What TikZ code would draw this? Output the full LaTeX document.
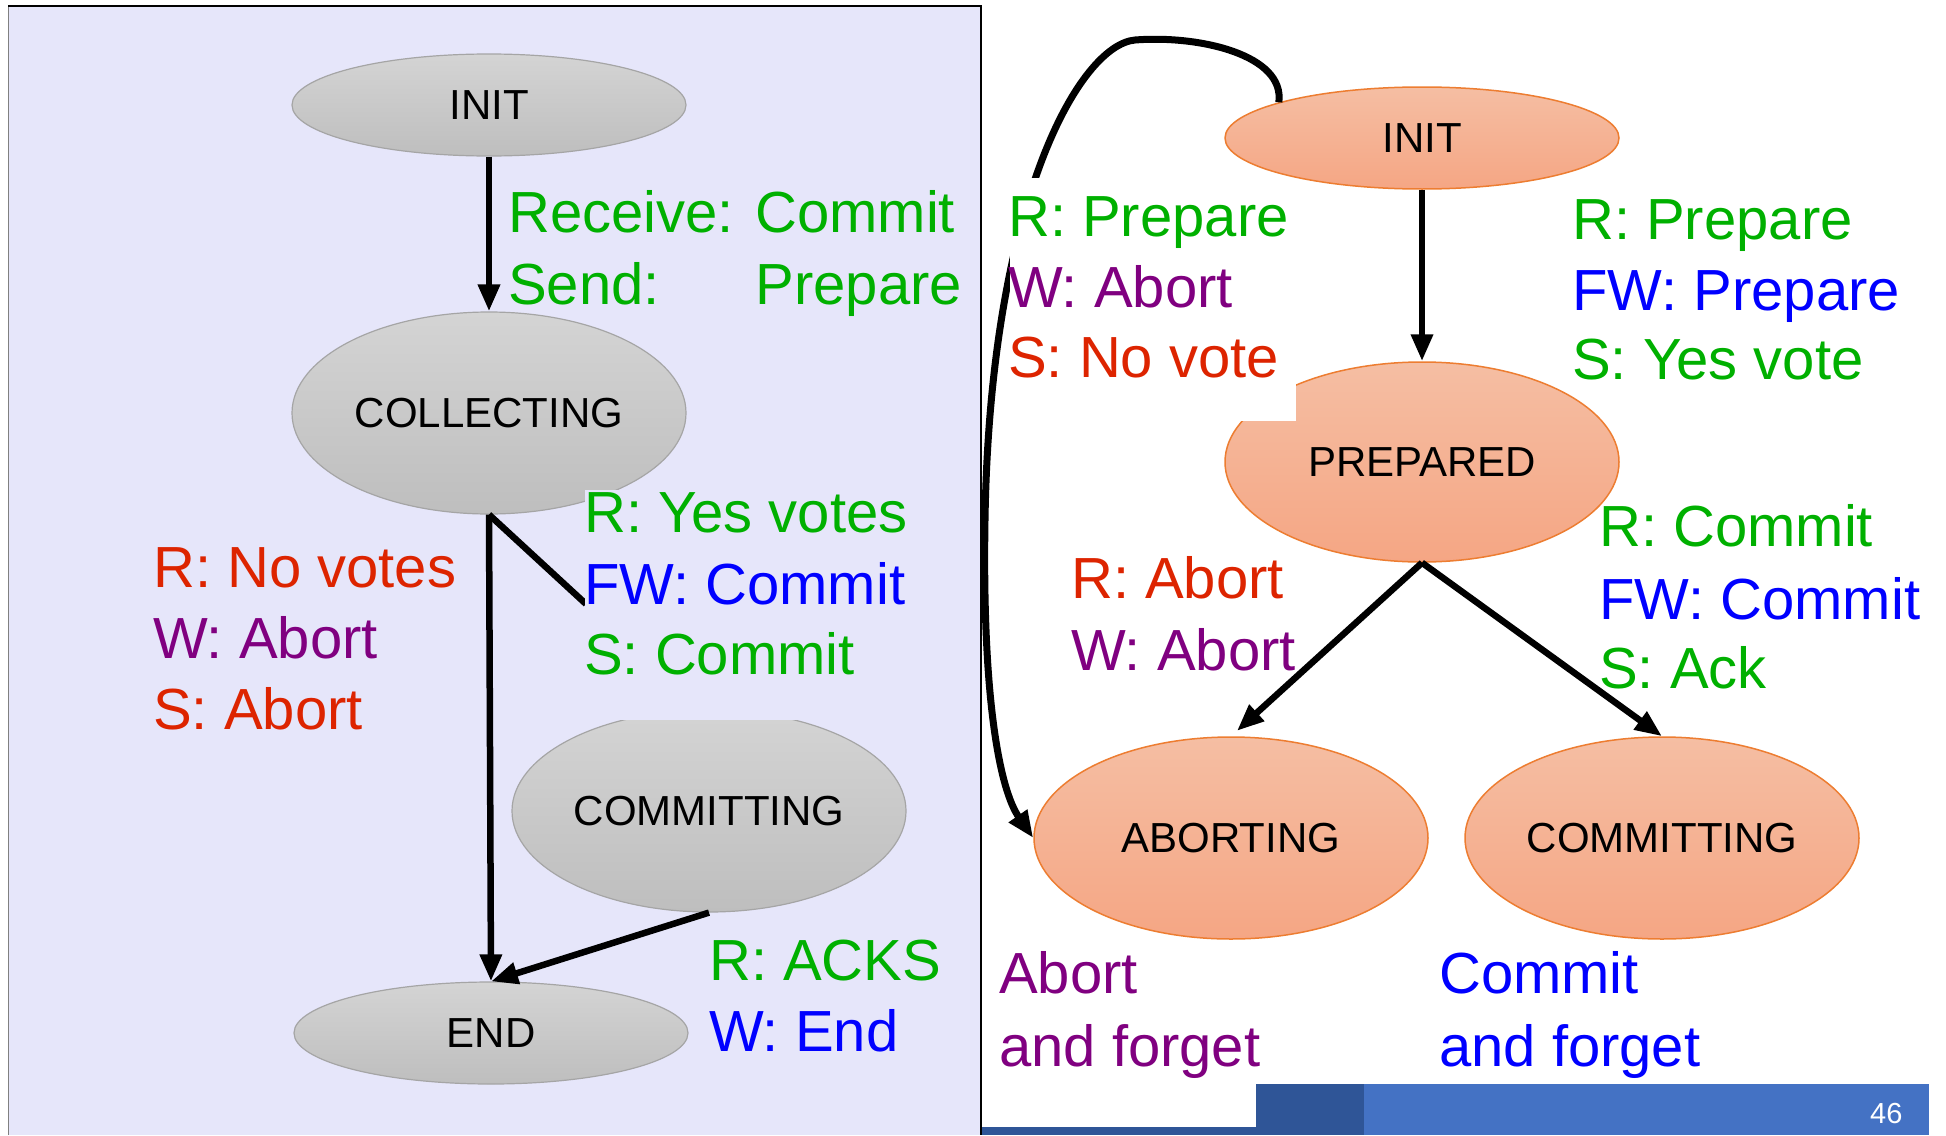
\documentclass[tikz,border=0pt]{standalone}
\usepackage{fontspec}
\setmainfont{Liberation Sans}
\usetikzlibrary{shapes.geometric,arrows.meta}
\definecolor{panelbg}{RGB}{230,230,250}
\definecolor{lgreen}{RGB}{0,176,0}
\definecolor{lred}{RGB}{221,36,0}
\definecolor{lpurple}{RGB}{128,0,128}
\definecolor{lblue}{RGB}{0,0,255}
\definecolor{gtop}{RGB}{212,212,212}
\definecolor{gbot}{RGB}{190,190,190}
\definecolor{gline}{RGB}{165,165,165}
\definecolor{otop}{RGB}{245,190,163}
\definecolor{obot}{RGB}{245,166,132}
\definecolor{oline}{RGB}{237,125,49}
\definecolor{footdark}{RGB}{47,85,151}
\definecolor{footlight}{RGB}{68,114,196}
\tikzset{
  stnode/.style={ellipse, inner sep=0pt, minimum width=394pt, font=\fontsize{42}{48}\selectfont, text=black},
  gnode/.style={stnode, draw=gline, line width=1.2pt, top color=gtop, bottom color=gbot},
  onode/.style={stnode, draw=oline, line width=1.5pt, top color=otop, bottom color=obot},
  arr/.style={line width=6.5pt, -{Triangle[length=27pt,width=21pt]}},
  conn/.style={line width=6.5pt},
  lbl/.style={anchor=base west, inner sep=0pt, font=\fontsize{58}{71}\selectfont},
  lg/.style={lbl, text=lgreen},
  lr/.style={lbl, text=lred},
  lp/.style={lbl, text=lpurple},
  lb/.style={lbl, text=lblue}
}
\begin{document}
\begin{tikzpicture}[x=1pt,y=-1pt]
\useasboundingbox (0,0) rectangle (1946,1135);
\fill[white] (0,0) rectangle (1946,1135);
% left panel
\fill[panelbg] (8,6) rectangle (981,1135);
\draw[gray, line width=1pt] (8,1135) -- (8,6);
\draw[black, line width=2.5pt] (8,6) -- (981,6) -- (981,1135);
% footer
\fill[footdark] (1256,1084) rectangle (1364,1135);
\fill[footlight] (1364,1084) rectangle (1929,1135);
\fill[footdark] (982,1127) rectangle (1256,1135);
\node[anchor=base west, inner sep=0pt, text=white, font=\fontsize{29}{34}\selectfont] (pagenum) at (1870,1123) {46};

% left states
\node[gnode, minimum height=102pt] (initL) at (489,105) {INIT};
\node[gnode, minimum height=202pt] (collL) at (489,413) {COLLECTING};
\node[gnode, minimum height=202pt] (commL) at (709,811) {COMMITTING};
\node[gnode, minimum height=102pt] (endL) at (491,1033) {END};
\coordinate (cutA) at (586,604);

\draw[arr] (initL.south) -- (collL.north);
\draw[arr] (collL.south) -- (endL.north);
\draw[conn] (collL.south) -- (cutA);
\draw[arr] (commL.south) -- (endL.north);

% right states
\node[onode, minimum height=102pt] (initR) at (1422,138) {INIT};
\node[onode, minimum height=200pt] (prepR) at (1422,462) {PREPARED};
\node[onode, minimum height=202pt] (abortR) at (1231,838) {ABORTING};
\node[onode, minimum height=202pt] (commR) at (1662,838) {COMMITTING};

\draw[arr] (initR.south) -- (prepR.north);
\draw[arr, shorten >=8pt] (prepR.south) -- (abortR.north);
\draw[arr] (prepR.south) -- (commR.north);
\draw[arr, line width=7pt] (initR.166) .. controls (1285,55) and (1200,35) .. (1135,40)
   .. controls (1080,45) and (990,200) .. (985,520)
   .. controls (982,700) and (1000,790) .. (abortR.west);

% text-box backgrounds that hide parts of shapes
\fill[panelbg] (585,490) rectangle (925,720);
\fill[white] (1010,178) rectangle (1296,421);

% left labels
\node[lg] (t1) at (508,232) {Receive: Commit};
\node[lg] (t2) at (508,304) {Send:\hspace{96pt}Prepare};
\node[lg] (t3) at (584,532) {R: Yes votes};
\node[lb] (t4) at (584,604) {FW: Commit};
\node[lg] (t5) at (584,674) {S: Commit};
\node[lr] (t6) at (153,587) {R: No votes};
\node[lp] (t7) at (153,658) {W: Abort};
\node[lr] (t8) at (153,729) {S: Abort};
\node[lg] (t9) at (709,980) {R: ACKS};
\node[lb] (t10) at (709,1051) {W: End};

% right labels
\node[lg] (u1) at (1008,236) {R: Prepare};
\node[lp] (u2) at (1008,307) {W: Abort};
\node[lr] (u3) at (1008,377) {S: No vote};
\node[lg] (u4) at (1572,239) {R: Prepare};
\node[lb] (u5) at (1572,310) {FW: Prepare};
\node[lg] (u6) at (1572,379) {S: Yes vote};
\node[lg] (u7) at (1599,546) {R: Commit};
\node[lb] (u8) at (1599,619) {FW: Commit};
\node[lg] (u9) at (1599,688) {S: Ack};
\node[lr] (u10) at (1071,598) {R: Abort};
\node[lp] (u11) at (1071,670) {W: Abort};
\node[lp] (u12) at (999,993) {Abort};
\node[lp] (u13) at (999,1066) {and forget};
\node[lb] (u14) at (1439,993) {Commit};
\node[lb] (u15) at (1439,1066) {and forget};
\end{tikzpicture}
\end{document}
